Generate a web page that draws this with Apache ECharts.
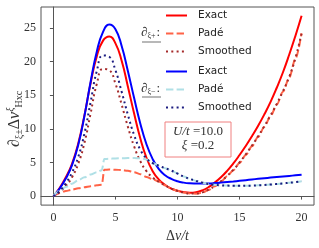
<!DOCTYPE html>
<html><head><meta charset="utf-8">
<script src="https://cdn.jsdelivr.net/npm/echarts@6/dist/echarts.min.js"></script>
<style>html,body{margin:0;padding:0;background:#fff}#c{width:319px;height:248px}</style>
</head><body><div id="c"></div>
<script>
// ---- data ----
const xs = [0,0.5,1,1.5,2,2.5,3,3.5,4,4.5,5,5.5,6,6.5,7,7.5,8,8.5,9,9.5,10,10.5,11,11.5,12,12.5,13,13.5,14,14.5,15,15.5,16,16.5,17,17.5,18,18.5,19,19.5,20];
const exactPlus = [0,1.2,2.8,4.8,7.8,12.0,16.8,20.8,23.1,23.7,22.7,20.1,16.3,12.3,8.6,5.7,3.7,2.45,1.65,1.12,0.78,0.58,0.5,0.58,0.85,1.32,2.0,2.8,3.75,4.85,6.1,7.45,8.9,10.45,12.15,14.0,16.1,18.4,21.0,23.8,26.8];
const smoothPlus = [0,0.6,1.5,2.8,4.8,7.9,12.3,16.7,18.9,18.7,16.7,13.6,10.3,7.4,5.2,3.7,2.75,2.1,1.6,1.12,0.78,0.5,0.38,0.38,0.55,0.95,1.5,2.2,3.0,3.9,5.0,6.2,7.5,8.9,10.4,12.0,13.7,15.6,17.7,20.5,24.2];
const exactMinus = [0,1.1,2.6,4.6,7.6,11.9,17.0,21.5,24.4,25.5,24.8,22.3,18.6,14.6,10.8,7.7,5.5,4.0,3.1,2.55,2.2,2.0,1.9,1.87,1.86,1.88,1.93,2.0,2.08,2.17,2.27,2.37,2.47,2.57,2.66,2.75,2.84,2.92,3.0,3.08,3.16];
const smoothMinus = [0,0.75,1.9,3.5,5.8,9.3,14.0,18.6,20.9,20.7,18.7,15.5,12.1,9.1,6.9,5.6,4.9,4.5,4.15,3.8,3.35,2.9,2.55,2.25,2.0,1.8,1.67,1.6,1.56,1.53,1.52,1.53,1.56,1.6,1.66,1.72,1.8,1.88,1.98,2.08,2.2];
const padeX = [0,0.25,0.5,1,1.5,2,2.5,3,3.5,3.9,4.1,4.5,5,5.5,6,6.5,7,7.5,8,8.5,9,9.5,10,10.5,11,11.5,12,12.5,13,13.5,14,14.5,15,15.5,16,16.5,17,17.5,18,18.5,19,19.5,20];
const padePlus = [0,0.25,0.45,0.75,0.95,1.15,1.3,1.45,1.6,1.7,3.9,3.95,3.92,3.87,3.75,3.55,3.25,2.85,2.5,2.15,1.6,1.1,0.78,0.52,0.38,0.36,0.5,0.9,1.45,2.15,2.95,3.85,4.9,6.1,7.4,8.8,10.3,11.9,13.6,15.5,17.6,20.4,24.2];
const padeMinus = [0,0.5,0.85,1.35,1.85,2.35,2.8,3.2,3.55,3.85,5.5,5.55,5.6,5.62,5.65,5.65,5.62,5.45,4.9,4.5,4.15,3.8,3.35,2.9,2.55,2.25,2.0,1.8,1.67,1.6,1.56,1.53,1.52,1.53,1.56,1.6,1.66,1.72,1.8,1.88,1.98,2.08,2.2];
const xTicks = [0,5,10,15,20];
const yTicks = [0,5,10,15,20,25];

function pairs(x,y){return x.map((v,i)=>[v,y[i]]);}
const serif = 'Liberation Serif';
const chart = echarts.init(document.getElementById('c'));
function mk(name,x,y,color,type,mono){
  const s = {name:name,type:'line',data:pairs(x,y),showSymbol:false,symbol:'none',smooth:mono?0.3:0.5,
    lineStyle:{color:color,width:2,type:type},itemStyle:{color:color},animation:false,silent:true};
  if(mono) s.smoothMonotone='x';
  return s;
}
const dash=[7.4,3.2], dot=[2,3.3];
const legBase = {orient:'vertical',left:165,itemWidth:21,itemHeight:12,itemGap:7,padding:0,selectedMode:false,
  itemStyle:{opacity:0},formatter:n=>n.slice(0,-1),
  textStyle:{fontFamily:'DejaVu Sans',fontSize:10.5,color:'#222',padding:[0,0,0,6]}};
chart.setOption({
  animation:false,
  grid:{left:41,right:5,top:7,bottom:37,show:true,borderColor:'#555',borderWidth:1},
  xAxis:{type:'value',min:-1,max:21,
    axisLine:{show:true,lineStyle:{color:'#555'}},
    axisTick:{show:true,length:3.5,customValues:xTicks,lineStyle:{color:'#555'}},
    axisLabel:{customValues:xTicks,fontFamily:serif,fontSize:12,color:'#333',margin:7},
    splitLine:{show:false},
    name:'{a|Δ}{b|v/t}',nameLocation:'middle',nameGap:18,
    nameTextStyle:{rich:{a:{fontFamily:serif,fontSize:14,color:'#333'},b:{fontFamily:serif,fontStyle:'italic',fontSize:14,color:'#333'}}}
  },
  yAxis:{type:'value',min:-1.34,max:28.1,
    axisLine:{show:true,lineStyle:{color:'#555'}},
    axisTick:{show:true,length:3.5,customValues:yTicks,lineStyle:{color:'#555'}},
    axisLabel:{customValues:yTicks,fontFamily:serif,fontSize:12,color:'#333',margin:5},
    splitLine:{show:false}
  },
  legend:[
    Object.assign({},legBase,{data:['Exact+','Padé+','Smoothed+'],top:10}),
    Object.assign({},legBase,{data:['Exact-','Padé-','Smoothed-'],top:66})
  ],
  series:[
    mk('Exact+',xs,exactPlus,'#ff0000','solid'),
    mk('Padé+',padeX,padePlus,'#ff6347',dash,true),
    mk('Smoothed+',xs,smoothPlus,'#a52a2a',dot),
    mk('Exact-',xs,exactMinus,'#0000ff','solid'),
    mk('Padé-',padeX,padeMinus,'#b0e0e6',dash,true),
    mk('Smoothed-',xs,smoothMinus,'#1c1c80',dot)
  ],
  graphic:[
    {type:'text',left:141,top:26,style:{text:'{d|∂}{s|ξ+}{d|:}',rich:{d:{fontFamily:serif,fontSize:13,fill:'#333'},s:{fontFamily:serif,fontSize:8,fill:'#333',padding:[6,1,0,0]}}}},
    {type:'line',shape:{x1:142,y1:42,x2:161,y2:42},style:{stroke:'#888',lineWidth:1.2}},
    {type:'text',left:141,top:82,style:{text:'{d|∂}{s|ξ−}{d|:}',rich:{d:{fontFamily:serif,fontSize:13,fill:'#333'},s:{fontFamily:serif,fontSize:8,fill:'#333',padding:[6,1,0,0]}}}},
    {type:'line',shape:{x1:142,y1:97,x2:161,y2:97},style:{stroke:'#888',lineWidth:1.2}},
    {type:'rect',shape:{x:165,y:122,width:66,height:35},style:{fill:'#fff',stroke:'#f08080',lineWidth:1}},
    {type:'text',x:198,y:132,style:{text:'{i|U/t} {n|=10.0}',align:'center',verticalAlign:'middle',rich:{i:{fontFamily:serif,fontStyle:'italic',fontSize:13,fill:'#333'},n:{fontFamily:serif,fontSize:13,fill:'#333'}}}},
    {type:'text',x:198,y:146,style:{text:'{i|ξ} {n|=0.2}',align:'center',verticalAlign:'middle',rich:{i:{fontFamily:serif,fontStyle:'italic',fontSize:13,fill:'#333'},n:{fontFamily:serif,fontSize:13,fill:'#333'}}}},
    {type:'text',x:15,y:119,rotation:Math.PI/2,style:{text:'{d|∂}{s|ξ±}{d|Δ}{i|v}{p|ξ}{t|Hxc}',align:'center',verticalAlign:'middle',
      rich:{d:{fontFamily:serif,fontSize:16,fill:'#333'},i:{fontFamily:serif,fontStyle:'italic',fontSize:16,fill:'#333'},
            s:{fontFamily:serif,fontSize:10,fill:'#333',padding:[9,0,0,0]},
            p:{fontFamily:serif,fontStyle:'italic',fontSize:10,fill:'#333',padding:[0,0,9,0]},
            t:{fontFamily:serif,fontSize:10,fill:'#333',padding:[9,0,0,0]}}}}
  ]
});
</script></body></html>
